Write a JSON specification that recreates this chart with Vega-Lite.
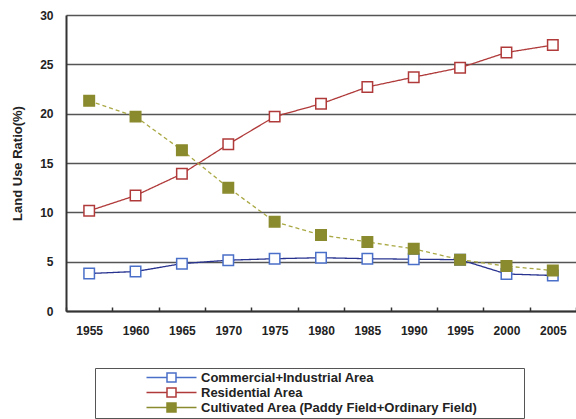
{
  "$schema": "https://vega.github.io/schema/vega-lite/v6.json",
  "width": 510,
  "height": 296,
  "autosize": {"type": "none"},
  "padding": {"left": 66, "top": 15, "right": 0, "bottom": 108},
  "background": "white",
  "config": {
    "view": {"stroke": null},
    "font": "Liberation Sans",
    "axis": {"labelFont": "Liberation Sans", "labelFontWeight": "bold", "labelColor": "#222", "titleFont": "Liberation Sans", "titleFontWeight": "bold", "titleColor": "#222"}
  },
  "data": {"values": [
    {"year": "1955", "series": "Commercial+Industrial Area", "value": 3.8},
    {"year": "1960", "series": "Commercial+Industrial Area", "value": 4.0},
    {"year": "1965", "series": "Commercial+Industrial Area", "value": 4.8},
    {"year": "1970", "series": "Commercial+Industrial Area", "value": 5.15},
    {"year": "1975", "series": "Commercial+Industrial Area", "value": 5.3},
    {"year": "1980", "series": "Commercial+Industrial Area", "value": 5.4},
    {"year": "1985", "series": "Commercial+Industrial Area", "value": 5.3},
    {"year": "1990", "series": "Commercial+Industrial Area", "value": 5.25},
    {"year": "1995", "series": "Commercial+Industrial Area", "value": 5.2},
    {"year": "2000", "series": "Commercial+Industrial Area", "value": 3.75},
    {"year": "2005", "series": "Commercial+Industrial Area", "value": 3.6},
    {"year": "1955", "series": "Residential Area", "value": 10.15},
    {"year": "1960", "series": "Residential Area", "value": 11.7},
    {"year": "1965", "series": "Residential Area", "value": 13.9},
    {"year": "1970", "series": "Residential Area", "value": 16.9},
    {"year": "1975", "series": "Residential Area", "value": 19.7},
    {"year": "1980", "series": "Residential Area", "value": 21.0},
    {"year": "1985", "series": "Residential Area", "value": 22.7},
    {"year": "1990", "series": "Residential Area", "value": 23.7},
    {"year": "1995", "series": "Residential Area", "value": 24.65},
    {"year": "2000", "series": "Residential Area", "value": 26.2},
    {"year": "2005", "series": "Residential Area", "value": 26.95},
    {"year": "1955", "series": "Cultivated Area (Paddy Field+Ordinary Field)", "value": 21.3},
    {"year": "1960", "series": "Cultivated Area (Paddy Field+Ordinary Field)", "value": 19.7},
    {"year": "1965", "series": "Cultivated Area (Paddy Field+Ordinary Field)", "value": 16.3},
    {"year": "1970", "series": "Cultivated Area (Paddy Field+Ordinary Field)", "value": 12.5},
    {"year": "1975", "series": "Cultivated Area (Paddy Field+Ordinary Field)", "value": 9.05},
    {"year": "1980", "series": "Cultivated Area (Paddy Field+Ordinary Field)", "value": 7.7},
    {"year": "1985", "series": "Cultivated Area (Paddy Field+Ordinary Field)", "value": 7.0},
    {"year": "1990", "series": "Cultivated Area (Paddy Field+Ordinary Field)", "value": 6.3},
    {"year": "1995", "series": "Cultivated Area (Paddy Field+Ordinary Field)", "value": 5.2},
    {"year": "2000", "series": "Cultivated Area (Paddy Field+Ordinary Field)", "value": 4.55},
    {"year": "2005", "series": "Cultivated Area (Paddy Field+Ordinary Field)", "value": 4.1}
  ]},
  "encoding": {
    "x": {"field": "year", "type": "ordinal", "scale": {"type": "band", "paddingInner": 0, "paddingOuter": 0},
      "axis": {"title": null, "labelAngle": 0, "labelFontSize": 12, "tickBand": "extent", "tickSize": -4, "tickColor": "#333", "tickWidth": 1.5, "labelPadding": 18, "domainColor": "#333", "domainWidth": 2, "grid": false}},
    "y": {"field": "value", "type": "quantitative", "scale": {"domain": [0, 30], "nice": false},
      "axis": {"title": "Land Use Ratio(%)", "titleFontSize": 13, "titlePadding": 15, "values": [0, 5, 10, 15, 20, 25, 30], "labelFontSize": 12, "ticks": false, "labelPadding": 13, "domainColor": "#333", "domainWidth": 2, "grid": true, "gridColor": "#555", "gridWidth": 1.5}}
  },
  "layer": [
    {
      "mark": {"type": "line", "strokeWidth": 1.3},
      "encoding": {
        "detail": {"field": "series", "type": "nominal"},
        "stroke": {"condition": [
          {"test": "datum.series === 'Commercial+Industrial Area'", "value": "#28338f"},
          {"test": "datum.series === 'Residential Area'", "value": "#b03a3a"}
        ], "value": "#a9a843"},
        "strokeDash": {"condition": {"test": "datum.series === 'Cultivated Area (Paddy Field+Ordinary Field)'", "value": [4, 3]}, "value": [1, 0]}
      }
    },
    {
      "mark": {"type": "point", "shape": "square", "size": 110, "strokeWidth": 1.5, "opacity": 1},
      "encoding": {
        "stroke": {"field": "series", "type": "nominal",
          "scale": {"domain": ["Commercial+Industrial Area", "Residential Area", "Cultivated Area (Paddy Field+Ordinary Field)"], "range": ["#4a6fc8", "#b03a3a", "#8a8a2e"]},
          "legend": {"title": " ", "titleOrient": "right", "titlePadding": 44, "orient": "none", "legendX": 29, "legendY": 353, "direction": "vertical",
            "symbolType": "M8.4,0H12.5M14.3,0H18.4M12.5,-0.9H14.3V0.9H12.5Z", "symbolSize": 100, "symbolStrokeWidth": 1.5,
            "labelFont": "Liberation Sans", "labelFontWeight": "bold", "labelFontSize": 13, "labelColor": "#222", "labelOffset": 90, "labelLimit": 400,
            "rowPadding": 0, "padding": 3, "strokeColor": "#555", "fillColor": "white",
            "encoding": {"symbols": {"update": {"stroke": {"signal": "datum.value === 'Commercial+Industrial Area' ? '#28338f' : datum.value === 'Residential Area' ? '#b03a3a' : '#a9a843'"}}}}}},
        "fill": {"field": "series", "type": "nominal",
          "scale": {"domain": ["Commercial+Industrial Area", "Residential Area", "Cultivated Area (Paddy Field+Ordinary Field)"], "range": ["white", "white", "#8a8a2e"]},
          "legend": {"title": " ", "titleOrient": "right", "titlePadding": 44, "orient": "none", "legendX": 29, "legendY": 353, "direction": "vertical",
            "symbolType": "M8.4,0H12.5M14.3,0H18.4M12.5,-0.9H14.3V0.9H12.5Z", "symbolSize": 100, "symbolStrokeWidth": 1.5,
            "labelFont": "Liberation Sans", "labelFontWeight": "bold", "labelFontSize": 13, "labelColor": "#222", "labelOffset": 90, "labelLimit": 400,
            "rowPadding": 0, "padding": 3, "strokeColor": "#555", "fillColor": "white",
            "encoding": {"symbols": {"update": {"stroke": {"signal": "datum.value === 'Commercial+Industrial Area' ? '#28338f' : datum.value === 'Residential Area' ? '#b03a3a' : '#a9a843'"}}}}}}
      }
    }
  ]
}
